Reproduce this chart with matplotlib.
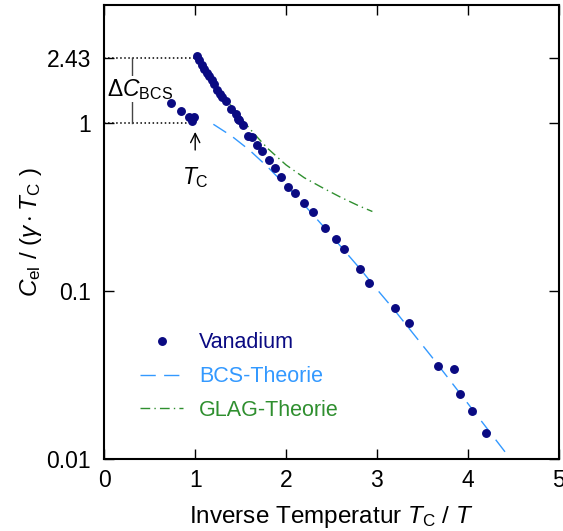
import matplotlib
matplotlib.use('agg')
from matplotlib import pyplot as plt

plt.rcParams['font.family'] = ['Liberation Sans', 'DejaVu Sans']
plt.rcParams['mathtext.fontset'] = 'custom'
plt.rcParams['mathtext.rm'] = 'Liberation Sans'
plt.rcParams['mathtext.it'] = 'Liberation Sans:italic'
plt.rcParams['mathtext.sf'] = 'Liberation Sans'

# Vanadium measurements (T_C / T, C_el / (gamma T_C))
vanadium_x = [0.730, 0.840, 0.934, 0.990, 0.967,
              1.015, 1.041, 1.070, 1.099, 1.125, 1.151, 1.180, 1.209, 1.242, 1.272,
              1.297, 1.334, 1.393, 1.447, 1.473, 1.484, 1.527, 1.582, 1.620, 1.681,
              1.730, 1.807, 1.876, 1.949, 2.022, 2.096, 2.198, 2.301, 2.433, 2.546,
              2.642, 2.813, 2.912, 3.194, 3.348, 3.670, 3.846, 3.909, 4.044, 4.195]
vanadium_y = [1.31, 1.17, 1.08, 1.08, 1.02,
              2.50, 2.36, 2.21, 2.09, 1.98, 1.88, 1.80, 1.70, 1.57, 1.48,
              1.41, 1.34, 1.21, 1.12, 1.05, 1.03, 0.969, 0.837, 0.818, 0.740,
              0.679, 0.600, 0.535, 0.477, 0.412, 0.380, 0.331, 0.292, 0.236, 0.204,
              0.176, 0.134, 0.112, 0.0785, 0.0642, 0.0358, 0.0343, 0.0245, 0.0193, 0.01435]

# BCS theory curve
bcs_x = [1.2, 1.4, 1.6, 1.8, 2.0, 2.2, 2.4, 2.6, 2.8, 3.0, 3.2, 3.6, 4.0, 4.47, 4.6]
bcs_y = [0.977, 0.832, 0.684, 0.543, 0.422, 0.324, 0.245, 0.184, 0.138, 0.102,
         0.0759, 0.0407, 0.0214, 0.0100, 0.0081]

# GLAG theory curve
glag_x = [1.0, 1.1, 1.2, 1.3, 1.4, 1.5, 1.6, 1.7, 1.8, 2.0, 2.2, 2.4, 2.6, 2.8, 2.95]
glag_y = [2.43, 2.08, 1.76, 1.48, 1.25, 1.07, 0.92, 0.80, 0.70, 0.56, 0.47, 0.41,
          0.36, 0.32, 0.296]

y_ticks = [0.01, 0.1, 1, 2.43]
y_ticklabels = ['0.01', '0.1', '1', '2.43']
x_ticks = [0, 1, 2, 3, 4, 5]

navy = '#0a0a82'
blue = '#3399ff'
green = '#2f8f2f'

fig = plt.figure(figsize=(5.63, 5.31), dpi=100)
ax = fig.add_axes([0.1853, 0.1356, 0.8070, 0.8550])

# guide lines for the jump at T_C
ax.plot([0, 1], [2.43, 2.43], ':', color='black', lw=1.1)
ax.plot([0, 1], [1, 1], ':', color='black', lw=1.1)
ax.plot([0.30, 0.30], [1, 2.43], '-', color='#444444', lw=1.0)
ax.text(0.39, 1.58, r'$\Delta C_\mathrm{BCS}$', fontsize=16.5, ha='center', va='center',
        bbox=dict(facecolor='white', edgecolor='none', pad=0.5))

ax.plot(bcs_x, bcs_y, color=blue, lw=1.0, dashes=(11, 6), label='BCS-Theorie')
ax.plot(glag_x, glag_y, color=green, lw=1.0, dashes=(7, 3, 1, 3), label='GLAG-Theorie')
ax.plot(vanadium_x, vanadium_y, 'o', color=navy, ms=5.4, ls='none', label='Vanadium',
        zorder=3)

ax.annotate(r'$T_\mathrm{C}$', xy=(1.0, 0.88), xytext=(1.0, 0.47), fontsize=16.5,
            ha='center', va='center',
            arrowprops=dict(arrowstyle='->', color='black', lw=1.0, shrinkA=9, shrinkB=0))

ax.set_yscale('log')
ax.set_xlim(0, 5)
ax.set_ylim(0.01, 5)
ax.set_xticks(x_ticks)
ax.set_yticks(y_ticks)
ax.set_yticklabels(y_ticklabels)
ax.minorticks_off()
ax.tick_params(direction='in', length=7, width=1.0, labelsize=16.5, top=True, right=True)
ax.tick_params(axis='x', pad=7.5)
ax.tick_params(axis='y', pad=9.5)
for s in ax.spines.values():
    s.set_linewidth(1.5)

ax.set_xlabel(r'Inverse Temperatur $T_\mathrm{C}\ /\ T$', fontsize=17.5, labelpad=8)
ax.set_ylabel(r'$C_\mathrm{el}\ /\ (\gamma\cdot T_\mathrm{C}\ )$', fontsize=17.5, labelpad=2)

handles, labels = ax.get_legend_handles_labels()
order = [2, 0, 1]
ax.legend([handles[i] for i in order], [labels[i] for i in order],
          loc='upper left', bbox_to_anchor=(0.036, 0.322), frameon=False, fontsize=15.5,
          handlelength=2.0, handletextpad=0.74, labelspacing=0.6,
          labelcolor=[navy, blue, green])

plt.savefig('out.png', dpi=100)
plt.close()
